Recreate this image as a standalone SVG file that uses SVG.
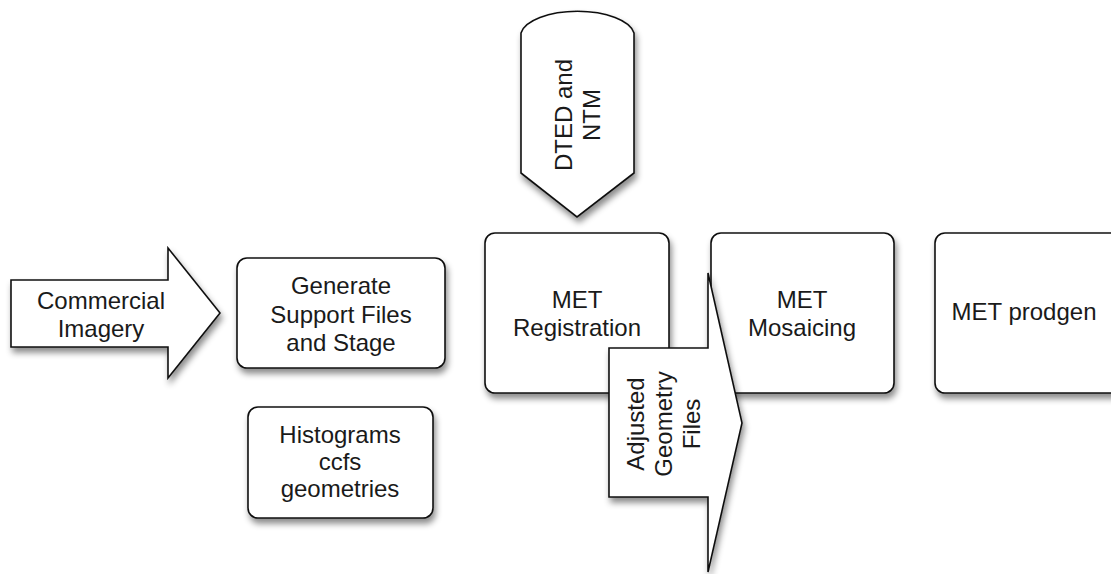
<svg xmlns="http://www.w3.org/2000/svg" width="1111" height="574" viewBox="0 0 1111 574">
<defs>
<filter id="sh" x="-20%" y="-20%" width="150%" height="150%">
<feDropShadow dx="2" dy="5" stdDeviation="3" flood-color="#000" flood-opacity="0.45"/>
</filter>
</defs>
<style>
.s{fill:#fff;stroke:#111;stroke-width:1.6;filter:url(#sh)}
.t{font-family:"Liberation Sans",Arial,sans-serif;font-size:24px;fill:#1a1a1a;text-anchor:middle}
</style>
<rect width="1111" height="574" fill="#fff"/>
<g id="connectors"></g>
<g id="dted">
<path class="s" d="M521,33 A57,25 0 0 1 634,33 L634,173 L577,217 L521,173 Z"/>
<text class="t" transform="translate(586,115) rotate(-90)"><tspan x="0" y="-14">DTED and</tspan><tspan x="0" y="14">NTM</tspan></text>
</g>
<g id="commercial">
<polygon class="s" points="11,280 168,280 168,248 220,313 168,378 168,347 11,347"/>
<text class="t"><tspan x="101" y="309">Commercial</tspan><tspan x="101" y="337">Imagery</tspan></text>
</g>
<g id="generate">
<rect class="s" x="237" y="258" width="208" height="110" rx="10"/>
<text class="t"><tspan x="341" y="294">Generate</tspan><tspan x="341" y="323">Support Files</tspan><tspan x="341" y="351">and Stage</tspan></text>
</g>
<g id="histograms">
<rect class="s" x="248" y="407" width="185" height="111" rx="10"/>
<text class="t"><tspan x="340" y="443">Histograms</tspan><tspan x="340" y="470">ccfs</tspan><tspan x="340" y="497">geometries</tspan></text>
</g>
<g id="registration">
<rect class="s" x="485" y="233" width="184" height="160" rx="10"/>
<text class="t"><tspan x="577" y="308">MET</tspan><tspan x="577" y="336">Registration</tspan></text>
</g>
<g id="mosaicing">
<rect class="s" x="711" y="233" width="183" height="160" rx="10"/>
<text class="t"><tspan x="802" y="308">MET</tspan><tspan x="802" y="336">Mosaicing</tspan></text>
</g>
<g id="prodgen">
<rect class="s" x="935" y="233" width="190" height="160" rx="10"/>
<text class="t" x="1024" y="320">MET prodgen</text>
</g>
<g id="adjusted">
<polygon class="s" points="609,348 708,348 708,273 742,423 708,572 708,497 609,497"/>
<text class="t" transform="translate(672,424) rotate(-90)"><tspan x="0" y="-28">Adjusted</tspan><tspan x="0" y="0">Geometry</tspan><tspan x="0" y="28">Files</tspan></text>
</g>
</svg>
